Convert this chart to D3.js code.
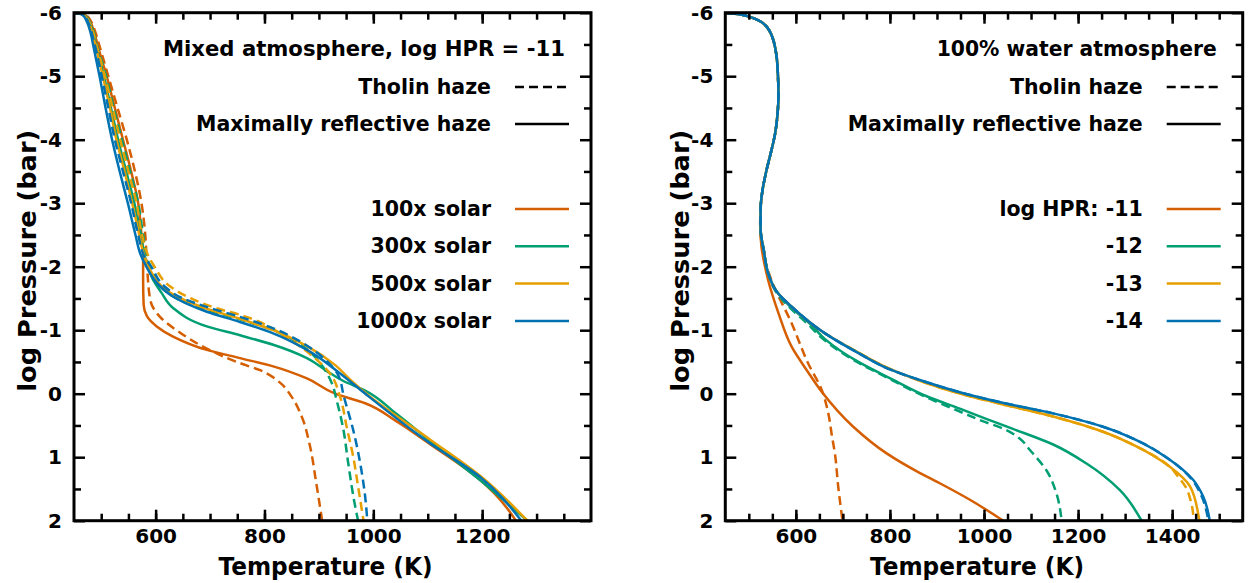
<!DOCTYPE html>
<html>
<head>
<meta charset="utf-8">
<script src="https://cdn.jsdelivr.net/npm/d3@7"></script>
<style>
  body { margin: 0; background: #fff; }
  text { font-family: "DejaVu Sans", sans-serif; font-weight: bold; fill: #000; }
</style>
</head>
<body>
<svg id="chart" width="1248" height="583"></svg>
<script>
// ---- data: [temperature K, log pressure bar] ----
// Left panel: mixed atmosphere, log HPR = -11
const mix100Reflective = [[450,-6],[470,-5.97],[480,-5.85],[487,-5.7],[493,-5.5],[510,-5],[525,-4.5],[540,-4],[555,-3.5],[568,-3],[574,-2.5],[577,-2.2],[577,-1.8],[578,-1.4],[584,-1.22],[602,-1.06],[632,-0.9],[694,-0.69],[755,-0.56],[816,-0.43],[878,-0.24],[930,0.0],[985,0.15],[1040,0.42],[1105,0.8],[1195,1.35],[1250,1.85],[1262,2]];
const mix100Tholin = [[450,-6],[471,-5.97],[482,-5.85],[489,-5.7],[496,-5.5],[513,-5],[530,-4.5],[547,-4],[562,-3.5],[574,-3],[581,-2.5],[584,-2.05],[590,-1.48],[608,-1.21],[645,-0.96],[694,-0.71],[749,-0.5],[792,-0.37],[829,-0.17],[850,0.05],[868,0.35],[883,0.8],[895,1.4],[906,2]];
const mix300Reflective = [[450,-6],[468,-5.97],[478,-5.85],[485,-5.7],[490,-5.5],[505,-5],[518,-4.5],[531,-4],[546,-3.5],[561,-3],[573,-2.5],[579,-2.2],[584,-2.05],[595,-1.8],[610,-1.6],[632,-1.35],[694,-1.06],[755,-0.92],[816,-0.77],[878,-0.56],[914,-0.36],[945,-0.2],[985,-0.05],[1040,0.3],[1104,0.74],[1196,1.36],[1283,2]];
const mix300Tholin = [[450,-6],[469,-5.97],[479,-5.85],[486,-5.7],[492,-5.5],[509,-5],[523,-4.5],[538,-4],[553,-3.5],[568,-3],[577,-2.5],[583,-2.2],[590,-2],[620,-1.6],[670,-1.38],[755,-1.17],[816,-1.0],[870,-0.75],[905,-0.45],[922,-0.2],[934,0.15],[944,0.52],[954,1.1],[965,1.7],[972,2]];
const mix500Reflective = [[450,-6],[467,-5.97],[477,-5.85],[483,-5.7],[489,-5.5],[503,-5],[516,-4.5],[528,-4],[543,-3.5],[557,-3],[570,-2.5],[578,-2.2],[587,-2],[625,-1.6],[690,-1.35],[755,-1.18],[816,-1.0],[878,-0.75],[930,-0.45],[960,-0.2],[990,0.02],[1104,0.72],[1200,1.32],[1283,2]];
const mix500Tholin = [[450,-6],[468,-5.97],[478,-5.85],[485,-5.7],[491,-5.5],[507,-5],[521,-4.5],[535,-4],[550,-3.5],[565,-3],[575,-2.5],[585,-2.2],[598,-2],[625,-1.7],[665,-1.5],[710,-1.35],[760,-1.23],[847,-0.85],[890,-0.58],[922,-0.3],[939,0.05],[951,0.52],[963,0.99],[972,1.46],[982,2]];
const mix1000Reflective = [[450,-6],[465,-5.97],[474,-5.85],[480,-5.7],[485,-5.5],[497,-5],[508,-4.5],[520,-4],[534,-3.5],[549,-3],[563,-2.5],[572,-2.2],[583,-2],[607,-1.7],[632,-1.53],[694,-1.29],[755,-1.13],[816,-0.95],[878,-0.69],[939,-0.32],[988,0.02],[1104,0.78],[1196,1.31],[1272,2]];
const mix1000Tholin = [[450,-6],[467,-5.97],[476,-5.85],[482,-5.7],[488,-5.5],[501,-5],[513,-4.5],[525,-4],[540,-3.5],[555,-3],[568,-2.5],[580,-2.15],[592,-2],[615,-1.7],[650,-1.5],[700,-1.35],[755,-1.21],[816,-1.03],[870,-0.8],[910,-0.55],[935,-0.3],[946,0.05],[963,0.57],[976,1.1],[985,1.62],[989,2]];

// Right panel: 100% water atmosphere
const waterM11Reflective = [[450,-6],[475,-5.98],[495,-5.95],[515,-5.9],[531,-5.83],[545,-5.7],[552,-5.57],[559,-5.31],[562,-5.0],[563,-4.7],[561,-4.4],[556,-4.1],[547,-3.8],[537,-3.5],[529,-3.2],[525,-2.9],[524,-2.68],[527,-2.31],[533,-2.05],[541,-1.79],[563,-1.27],[591,-0.74],[625,-0.35],[655,-0.03],[722,0.52],[793,0.94],[864,1.25],[906,1.41],[970,1.67],[1041,2]];
const waterM11Tholin = [[450,-6],[475,-5.98],[495,-5.95],[515,-5.9],[531,-5.83],[545,-5.7],[552,-5.57],[559,-5.31],[562,-5.0],[563,-4.7],[561,-4.4],[556,-4.1],[547,-3.8],[537,-3.5],[529,-3.2],[525,-2.9],[525,-2.6],[531,-2.21],[548,-1.79],[591,-1.11],[626,-0.48],[655,-0.06],[669,0.31],[677,0.68],[683,0.94],[690,1.46],[697,1.88],[699,2]];
const waterM12Reflective = [[450,-6],[475,-5.98],[495,-5.95],[515,-5.9],[531,-5.83],[545,-5.7],[552,-5.57],[559,-5.31],[562,-5.0],[563,-4.7],[561,-4.4],[556,-4.1],[547,-3.8],[537,-3.5],[529,-3.2],[525,-2.9],[525,-2.6],[532,-2.25],[541,-1.9],[560,-1.6],[588,-1.37],[630,-1.1],[662,-0.86],[733,-0.5],[804,-0.23],[878,0.04],[950,0.24],[1006,0.4],[1060,0.55],[1147,0.8],[1218,1.1],[1289,1.52],[1335,2]];
const waterM12Tholin = [[450,-6],[475,-5.98],[495,-5.95],[515,-5.9],[531,-5.83],[545,-5.7],[552,-5.57],[559,-5.31],[562,-5.0],[563,-4.7],[561,-4.4],[556,-4.1],[547,-3.8],[537,-3.5],[529,-3.2],[525,-2.9],[525,-2.6],[532,-2.25],[541,-1.9],[558,-1.6],[585,-1.37],[625,-1.1],[655,-0.88],[725,-0.52],[795,-0.25],[870,0.03],[945,0.27],[1000,0.44],[1041,0.55],[1075,0.7],[1098,0.89],[1133,1.21],[1154,1.57],[1165,2]];
const waterM13Reflective = [[450,-6],[475,-5.98],[495,-5.95],[515,-5.9],[531,-5.83],[545,-5.7],[552,-5.57],[559,-5.31],[562,-5.0],[563,-4.7],[561,-4.4],[556,-4.1],[547,-3.8],[537,-3.5],[529,-3.2],[525,-2.9],[525,-2.6],[532,-2.25],[541,-1.9],[560,-1.6],[591,-1.37],[660,-0.96],[730,-0.66],[800,-0.39],[865,-0.2],[950,0.0],[1030,0.15],[1147,0.36],[1253,0.6],[1324,0.83],[1395,1.15],[1438,1.46],[1457,1.96],[1458,2]];
const waterM13Tholin = [[450,-6],[475,-5.98],[495,-5.95],[515,-5.9],[531,-5.83],[545,-5.7],[552,-5.57],[559,-5.31],[562,-5.0],[563,-4.7],[561,-4.4],[556,-4.1],[547,-3.8],[537,-3.5],[529,-3.2],[525,-2.9],[525,-2.6],[532,-2.25],[541,-1.9],[560,-1.6],[591,-1.37],[660,-0.96],[730,-0.66],[800,-0.39],[865,-0.2],[950,0.0],[1030,0.15],[1147,0.36],[1253,0.6],[1324,0.83],[1395,1.15],[1412,1.3],[1428,1.46],[1440,1.7],[1446,2]];
const waterM14Reflective = [[450,-6],[475,-5.98],[495,-5.95],[515,-5.9],[531,-5.83],[545,-5.7],[552,-5.57],[559,-5.31],[562,-5.0],[563,-4.7],[561,-4.4],[556,-4.1],[547,-3.8],[537,-3.5],[529,-3.2],[525,-2.9],[525,-2.6],[532,-2.25],[541,-1.9],[560,-1.6],[591,-1.37],[662,-0.95],[733,-0.64],[804,-0.37],[870,-0.2],[960,0.0],[1044,0.15],[1147,0.31],[1253,0.52],[1324,0.73],[1395,1.04],[1445,1.36],[1466,1.62],[1480,2]];
const waterM14Tholin = [[450,-6],[475,-5.98],[495,-5.95],[515,-5.9],[531,-5.83],[545,-5.7],[552,-5.57],[559,-5.31],[562,-5.0],[563,-4.7],[561,-4.4],[556,-4.1],[547,-3.8],[537,-3.5],[529,-3.2],[525,-2.9],[525,-2.6],[532,-2.25],[541,-1.9],[560,-1.6],[591,-1.37],[662,-0.95],[733,-0.64],[804,-0.37],[870,-0.2],[960,0.0],[1044,0.15],[1147,0.31],[1253,0.52],[1324,0.73],[1395,1.04],[1443,1.36],[1463,1.62],[1477,2]];

const seriesColors = ["#d55e00", "#009e73", "#e69f00", "#0072b2"];
const mixLabels = ["100x solar", "300x solar", "500x solar", "1000x solar"];
const waterLabels = ["log HPR: -11", "-12", "-13", "-14"];
const xMajorLeft = [600, 800, 1000, 1200];
const xMajorRight = [600, 800, 1000, 1200, 1400];
const yMajor = [-6, -5, -4, -3, -2, -1, 0, 1, 2];

const panels = [
  {
    left: 74, right: 591, xDomain: [450, 1400], xMajor: xMajorLeft,
    title: "Mixed atmosphere, log HPR = -11", titleLen: 402, labels: mixLabels, yTitleX: 27,
    solid: [mix100Reflective, mix300Reflective, mix500Reflective, mix1000Reflective],
    dashed: [mix100Tholin, mix300Tholin, mix500Tholin, mix1000Tholin]
  },
  {
    left: 725.3, right: 1242.7, xDomain: [450, 1550], xMajor: xMajorRight,
    title: "100% water atmosphere", titleLen: 280, labels: waterLabels, yTitleX: 680,
    solid: [waterM11Reflective, waterM12Reflective, waterM13Reflective, waterM14Reflective],
    dashed: [waterM11Tholin, waterM12Tholin, waterM13Tholin, waterM14Tholin]
  }
];

const plotTop = 12.7, plotBottom = 520.7;
const svg = d3.select("#chart");
const fmt = (d) => (d < 0 ? "-" + Math.abs(d) : String(d));

panels.forEach((p, i) => {
  const x = d3.scaleLinear().domain(p.xDomain).range([p.left, p.right]);
  const y = d3.scaleLinear().domain([-6, 2]).range([plotTop, plotBottom]);
  const w = p.right - p.left;
  const h = plotBottom - plotTop;

  svg.append("clipPath").attr("id", "clip" + i)
    .append("rect").attr("x", p.left).attr("y", plotTop).attr("width", w).attr("height", h);

  // curves
  const line = d3.line().x((d) => x(d[0])).y((d) => y(d[1])).curve(d3.curveMonotoneY);
  const g = svg.append("g").attr("clip-path", `url(#clip${i})`);
  p.solid.forEach((s, k) => {
    g.append("path").datum(s).attr("d", line)
      .attr("fill", "none").attr("stroke", seriesColors[k]).attr("stroke-width", 2.5);
    g.append("path").datum(p.dashed[k]).attr("d", line)
      .attr("fill", "none").attr("stroke", seriesColors[k]).attr("stroke-width", 2.5)
      .attr("stroke-dasharray", "9,5");
  });

  // axes with inward ticks
  const xMinor = d3.range(500, p.xDomain[1], 50);
  const yMinor = d3.range(-5.5, 2, 1);
  const addAxis = (axis, tx, ty) => {
    const a = svg.append("g").attr("transform", `translate(${tx},${ty})`).call(axis);
    a.select(".domain").remove();
    a.selectAll("line").attr("stroke", "#000").attr("stroke-width", 2.5);
    a.selectAll("text").attr("font-size", 20).attr("font-family", "DejaVu Sans").attr("font-weight", "bold");
    return a;
  };
  addAxis(d3.axisBottom(x).tickValues(xMinor).tickSizeInner(-7).tickSizeOuter(0).tickFormat(""), 0, plotBottom);
  addAxis(d3.axisBottom(x).tickValues(p.xMajor).tickSizeInner(-11).tickSizeOuter(0).tickPadding(8).tickFormat(d3.format("d")), 0, plotBottom);
  addAxis(d3.axisTop(x).tickValues(xMinor).tickSizeInner(-7).tickSizeOuter(0).tickFormat(""), 0, plotTop);
  addAxis(d3.axisTop(x).tickValues(p.xMajor).tickSizeInner(-11).tickSizeOuter(0).tickFormat(""), 0, plotTop);
  addAxis(d3.axisLeft(y).tickValues(yMinor).tickSizeInner(-7).tickSizeOuter(0).tickFormat(""), p.left, 0);
  addAxis(d3.axisLeft(y).tickValues(yMajor).tickSizeInner(-11).tickSizeOuter(0).tickPadding(12).tickFormat(fmt), p.left, 0);
  addAxis(d3.axisRight(y).tickValues(yMinor).tickSizeInner(-7).tickSizeOuter(0).tickFormat(""), p.right, 0);
  addAxis(d3.axisRight(y).tickValues(yMajor).tickSizeInner(-11).tickSizeOuter(0).tickFormat(""), p.right, 0);

  svg.append("rect").attr("x", p.left).attr("y", plotTop).attr("width", w).attr("height", h)
    .attr("fill", "none").attr("stroke", "#000").attr("stroke-width", 3);

  // axis titles
  svg.append("text").attr("x", (p.left + p.right) / 2 - 7).attr("y", 566)
    .attr("text-anchor", "middle").attr("dy", "0.35em").attr("font-size", 25)
    .attr("textLength", 214).attr("lengthAdjust", "spacingAndGlyphs")
    .text("Temperature (K)");
  svg.append("text").attr("transform", `translate(${p.yTitleX},${(plotTop + plotBottom) / 2 - 6}) rotate(-90)`)
    .attr("text-anchor", "middle").attr("dy", "0.35em").attr("font-size", 25)
    .attr("textLength", 262).attr("lengthAdjust", "spacingAndGlyphs")
    .text("log Pressure (bar)");

  // legend
  const textX = p.right - 100;
  const lx1 = p.right - 76, lx2 = p.right - 22;
  const leg = svg.append("g");
  leg.append("text").attr("x", p.right - 26).attr("y", 49).attr("dy", "0.35em")
    .attr("text-anchor", "end").attr("font-size", 20.5)
    .attr("textLength", p.titleLen).attr("lengthAdjust", "spacingAndGlyphs")
    .text(p.title);
  const styleRows = [["Tholin haze", "9,5", 87], ["Maximally reflective haze", null, 124]];
  styleRows.forEach(([label, dash, ry]) => {
    leg.append("text").attr("x", textX).attr("y", ry).attr("dy", "0.35em")
      .attr("text-anchor", "end").attr("font-size", 20.5).text(label);
    leg.append("line").attr("x1", lx1).attr("x2", lx2).attr("y1", ry).attr("y2", ry)
      .attr("stroke", "#000").attr("stroke-width", 2.5)
      .attr("stroke-dasharray", dash);
  });
  p.labels.forEach((label, k) => {
    const ry = 209 + k * 37.3;
    leg.append("text").attr("x", textX).attr("y", ry).attr("dy", "0.35em")
      .attr("text-anchor", "end").attr("font-size", 20.5).text(label);
    leg.append("line").attr("x1", lx1).attr("x2", lx2).attr("y1", ry).attr("y2", ry)
      .attr("stroke", seriesColors[k]).attr("stroke-width", 2.5);
  });
});
</script>
</body>
</html>
